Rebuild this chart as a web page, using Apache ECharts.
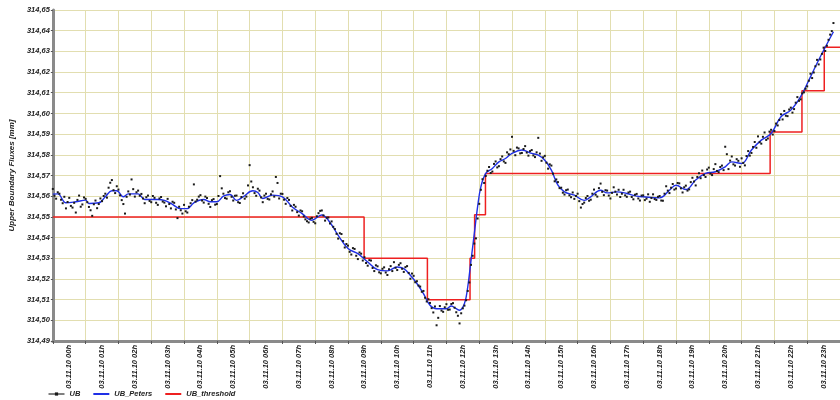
<!DOCTYPE html>
<html>
<head>
<meta charset="utf-8">
<script src="https://cdn.jsdelivr.net/npm/echarts@6/dist/echarts.min.js"></script>
<style>
html,body{margin:0;padding:0;background:#fff;}
#chart{width:840px;height:400px;}
</style>
</head>
<body>
<div id="chart"></div>
<script>
// ---- tick labels (x axis: one per hour)
const hourLabels = [
  '03.11.10 00h','03.11.10 01h','03.11.10 02h','03.11.10 03h','03.11.10 04h','03.11.10 05h',
  '03.11.10 06h','03.11.10 07h','03.11.10 08h','03.11.10 09h','03.11.10 10h','03.11.10 11h',
  '03.11.10 12h','03.11.10 13h','03.11.10 14h','03.11.10 15h','03.11.10 16h','03.11.10 17h',
  '03.11.10 18h','03.11.10 19h','03.11.10 20h','03.11.10 21h','03.11.10 22h','03.11.10 23h'
];
const yMin = 314.49, yMax = 314.65, yStep = 0.01;

// ---- UB measurements: one reading every 3 minutes, starting 02.11.10 23:30
const ubStartHour = -0.5;
const ubStepHours = 0.05;
const ubValues = [
  314.5635,314.5602,314.5588,314.5619,314.5612,314.5583,314.5566,314.5597,314.5541,314.5572,
  314.5592,314.5553,314.5545,314.5568,314.5521,314.5582,314.5603,314.5549,314.5560,314.5594,
  314.5587,314.5571,314.5548,314.5532,314.5505,314.5561,314.5579,314.5542,314.5562,314.5589,
  314.5576,314.5601,314.5612,314.5593,314.5641,314.5665,314.5678,314.5629,314.5615,314.5648,
  314.5632,314.5604,314.5581,314.5562,314.5516,314.5597,314.5623,314.5608,314.5681,314.5634,
  314.5598,314.5619,314.5627,314.5602,314.5611,314.5589,314.5566,314.5595,314.5603,314.5577,
  314.5571,314.5601,314.5592,314.5568,314.5558,314.5589,314.5596,314.5574,314.5569,314.5551,
  314.5587,314.5562,314.5541,314.5573,314.5568,314.5536,314.5494,314.5549,314.5532,314.5516,
  314.5558,314.5527,314.5521,314.5549,314.5566,314.5581,314.5657,314.5574,314.5583,314.5598,
  314.5605,314.5579,314.5569,314.5598,314.5591,314.5563,314.5548,314.5581,314.5586,314.5559,
  314.5562,314.5601,314.5697,314.5638,314.5612,314.5591,314.5588,314.5619,314.5624,314.5597,
  314.5579,314.5602,314.5603,314.5571,314.5567,314.5596,314.5614,314.5588,314.5598,314.5652,
  314.5750,314.5671,314.5643,314.5615,314.5602,314.5636,314.5627,314.5594,314.5571,314.5603,
  314.5612,314.5587,314.5584,314.5609,314.5623,314.5598,314.5693,314.5664,314.5589,314.5612,
  314.5611,314.5583,314.5563,314.5591,314.5582,314.5553,314.5531,314.5558,314.5549,314.5523,
  314.5506,314.5531,314.5527,314.5502,314.5488,314.5479,314.5473,314.5491,314.5495,314.5476,
  314.5469,314.5503,314.5518,314.5529,314.5531,314.5507,314.5482,314.5496,314.5497,314.5468,
  314.5478,314.5452,314.5441,314.5418,314.5395,314.5421,314.5417,314.5383,314.5352,314.5369,
  314.5361,314.5331,314.5318,314.5349,314.5345,314.5312,314.5296,314.5328,314.5322,314.5289,
  314.5305,314.5277,314.5264,314.5291,314.5289,314.5253,314.5238,314.5266,314.5261,314.5232,
  314.5227,314.5249,314.5256,314.5231,314.5219,314.5247,314.5262,314.5238,314.5281,314.5254,
  314.5243,314.5268,314.5276,314.5249,314.5234,314.5257,314.5262,314.5229,314.5201,314.5226,
  314.5215,314.5184,314.5189,314.5168,314.5163,314.5138,314.5142,314.5109,314.5091,314.5102,
  314.5084,314.5059,314.5038,314.5067,314.4976,314.5012,314.5069,314.5047,314.5041,314.5063,
  314.5078,314.5051,314.5052,314.5079,314.5083,314.5061,314.5039,314.5022,314.4985,314.5034,
  314.5058,314.5071,314.5097,314.5142,314.5183,314.5268,314.5312,314.5371,314.5396,314.5492,
  314.5563,314.5631,314.5682,314.5664,314.5698,314.5723,314.5741,314.5712,314.5719,314.5756,
  314.5768,314.5739,314.5745,314.5779,314.5792,314.5768,314.5761,314.5812,314.5803,314.5826,
  314.5887,314.5819,314.5798,314.5835,314.5831,314.5807,314.5809,314.5828,314.5842,314.5811,
  314.5796,314.5818,314.5823,314.5797,314.5789,314.5812,314.5882,314.5806,314.5771,314.5788,
  314.5795,314.5762,314.5733,314.5754,314.5748,314.5709,314.5672,314.5681,314.5668,314.5639,
  314.5641,314.5617,314.5608,314.5629,314.5632,314.5604,314.5595,314.5618,314.5587,314.5601,
  314.5612,314.5576,314.5545,314.5562,314.5569,314.5591,314.5601,314.5578,314.5583,314.5612,
  314.5632,314.5607,314.5598,314.5639,314.5661,314.5621,314.5605,314.5629,314.5627,314.5603,
  314.5589,314.5616,314.5643,314.5622,314.5608,314.5631,314.5596,314.5612,314.5631,314.5604,
  314.5597,314.5618,314.5622,314.5596,314.5585,314.5607,314.5611,314.5589,314.5579,314.5603,
  314.5604,314.5581,314.5588,314.5609,314.5573,314.5591,314.5609,314.5586,314.5582,314.5597,
  314.5601,314.5579,314.5578,314.5612,314.5648,314.5627,314.5615,314.5641,314.5659,314.5632,
  314.5637,314.5664,314.5662,314.5638,314.5618,314.5643,314.5651,314.5627,314.5633,314.5668,
  314.5689,314.5671,314.5652,314.5693,314.5711,314.5687,314.5724,314.5702,314.5693,314.5729,
  314.5738,314.5709,314.5702,314.5731,314.5755,314.5722,314.5716,314.5741,314.5748,314.5726,
  314.5839,314.5803,314.5731,314.5772,314.5792,314.5754,314.5748,314.5779,314.5771,314.5742,
  314.5783,314.5761,314.5749,314.5794,314.5818,314.5796,314.5809,314.5838,314.5862,314.5834,
  314.5889,314.5861,314.5854,314.5887,314.5908,314.5872,314.5879,314.5912,314.5921,314.5898,
  314.5915,314.5951,314.5942,314.5968,314.5996,314.5971,314.6012,314.5989,314.5987,314.6019,
  314.6028,314.6004,314.6021,314.6052,314.6079,314.6061,314.6068,314.6097,314.6102,314.6119,
  314.6131,314.6158,314.6192,314.6171,314.6198,314.6228,314.6259,314.6237,314.6261,314.6288,
  314.6318,314.6302,314.6327,314.6356,314.6381,314.6398,314.6437
];

// ---- UB_Peters (smoothed curve)
const petersHours = [
  -0.5,-0.35,-0.1,0.2,0.5,0.6,0.9,1.1,1.3,1.45,1.65,1.8,2.1,2.3,2.7,2.9,3.1,3.4,3.6,3.8,
  4.1,4.3,4.5,4.7,4.9,5.1,5.3,5.6,5.75,5.9,6.2,6.5,6.8,7.1,7.4,7.7,7.9,8.2,8.5,8.8,
  9.1,9.4,9.7,10.0,10.2,10.4,10.6,10.8,11.0,11.2,11.5,11.65,11.8,11.9,12.05,12.15,12.25,12.35,12.45,12.55,
  12.7,12.9,13.1,13.3,13.5,13.8,14.1,14.3,14.5,14.7,14.9,15.1,15.4,15.7,15.9,16.2,16.4,16.7,17.0,17.3,
  17.5,18.0,18.3,18.5,18.8,19.1,19.4,19.7,20.0,20.2,20.5,20.8,21.1,21.4,21.7,22.0,22.3,22.6,22.9,23.3
];
const petersValues = [
  314.5610,314.5611,314.5568,314.5573,314.5581,314.5565,314.5568,314.5597,314.5626,314.5626,
  314.5597,314.5611,314.5611,314.5584,314.5584,314.5580,314.5565,314.5540,314.5540,314.5568,
  314.5584,314.5573,314.5573,314.5600,314.5608,314.5580,314.5597,314.5626,314.5618,314.5589,
  314.5605,314.5597,314.5548,314.5516,314.5484,314.5509,314.5484,314.5411,314.5347,314.5322,
  314.5282,314.5245,314.5239,314.5258,314.5250,314.5218,314.5178,314.5129,314.5073,314.5056,
  314.5056,314.5069,314.5056,314.5049,314.5081,314.5161,314.5290,314.5419,314.5548,314.5645,
  314.5710,314.5734,314.5766,314.5782,314.5807,314.5823,314.5807,314.5798,314.5774,314.5726,
  314.5653,314.5621,314.5605,314.5580,314.5597,314.5629,314.5616,314.5621,314.5613,314.5600,
  314.5597,314.5592,314.5629,314.5653,314.5632,314.5678,314.5710,314.5718,314.5742,314.5766,
  314.5758,314.5823,314.5871,314.5903,314.5984,314.6016,314.6081,314.6177,314.6274,314.6395
];

// ---- UB_threshold (step function: value valid from the given hour on)
const thresholdHours  = [-0.5, 8.99, 10.92, 12.22, 12.36, 12.69, 21.37, 22.34, 23.02, 23.5];
const thresholdValues = [314.550,314.530,314.510,314.530,314.551,314.571,314.591,314.611,314.632,314.632];

const gridColor = '#e2deb0';
const axisColor = '#8a8a8a';
const txt = {fontFamily:'Liberation Sans, Arial, sans-serif', fontStyle:'italic', fontWeight:'bold', color:'#222'};

const chart = echarts.init(document.getElementById('chart'), null, {renderer:'canvas'});
chart.setOption({
  animation:false,
  backgroundColor:'#fff',
  grid:{left:47, top:10, right:-7, bottom:59, containLabel:false},
  xAxis:[
    {
      type:'category', data:hourLabels, boundaryGap:true, position:'bottom',
      axisLine:{onZero:false, lineStyle:{color:axisColor, width:3}},
      axisTick:{show:true, length:3, interval:0, lineStyle:{color:'#555'}},
      axisLabel:Object.assign({rotate:90, fontSize:7.5, margin:4, interval:0}, txt),
      splitLine:{show:true, interval:0, lineStyle:{color:gridColor, width:1}}
    },
    {type:'value', min:-0.5, max:23.5, show:false, position:'top'}
  ],
  yAxis:{
    type:'value', min:yMin, max:yMax, interval:yStep,
    axisLine:{show:true, onZero:false, lineStyle:{color:axisColor, width:3}},
    axisTick:{show:true, length:2, lineStyle:{color:'#555'}},
    axisLabel:Object.assign({fontSize:7.5, margin:3, formatter:v=>v.toFixed(2).replace('.', ',')}, txt),
    splitLine:{show:true, lineStyle:{color:gridColor, width:1}},
    name:'Upper Boundary Fluxes [mm]', nameLocation:'middle', nameGap:30,
    nameTextStyle:Object.assign({fontSize:8}, txt)
  },
  legend:{
    left:48, bottom:2, padding:0, itemWidth:16, itemHeight:4, itemGap:12,
    textStyle:Object.assign({fontSize:7.5}, txt),
    data:[
      {name:'UB', lineStyle:{color:'#000', width:1, opacity:1, type:'solid'}},
      {name:'UB_Peters', itemStyle:{opacity:0}},
      {name:'UB_threshold', itemStyle:{opacity:0}}
    ]
  },
  series:[
    {
      name:'UB', type:'line', xAxisIndex:1, z:4,
      data:ubValues.map((v,i)=>[ubStartHour + i*ubStepHours, v]),
      symbol:'rect', symbolSize:2, showSymbol:true, showAllSymbol:true,
      itemStyle:{color:'#1a1a1a'},
      lineStyle:{width:0, opacity:0}
    },
    {
      name:'UB_Peters', type:'line', xAxisIndex:1, z:3,
      data:petersHours.map((h,i)=>[h, petersValues[i]]),
      smooth:0.4, symbol:'none',
      lineStyle:{color:'#1f2fe6', width:1.4}, itemStyle:{color:'#1f2fe6'}
    },
    {
      name:'UB_threshold', type:'line', xAxisIndex:1, z:2,
      data:thresholdHours.map((h,i)=>[h, thresholdValues[i]]),
      step:'end', symbol:'none',
      lineStyle:{color:'#ee2020', width:1.5}, itemStyle:{color:'#ee2020'}
    }
  ]
});
</script>
</body>
</html>
